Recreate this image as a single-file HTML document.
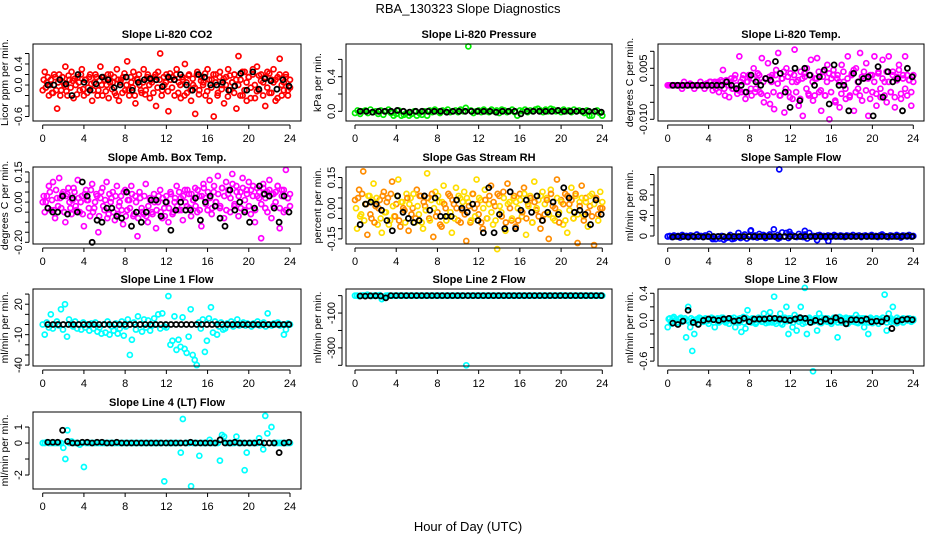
<!DOCTYPE html>
<html><head><meta charset="utf-8"><style>
html,body{margin:0;padding:0;background:#fff;}
svg{display:block;font-family:"Liberation Sans",sans-serif;}
</style></head><body>
<svg id="chart" width="936" height="540" viewBox="0 0 936 540" xmlns="http://www.w3.org/2000/svg">
<text x="468" y="13" text-anchor="middle" font-size="13">RBA_130323  Slope Diagnostics</text>
<text x="468" y="531" text-anchor="middle" font-size="13">Hour of Day (UTC)</text>
</svg>
<script>
const xTicks = [0,4,8,12,16,20,24];
const co2Vals = [-0.1,0.25,0.05,-0.2,0.1,-0.15,0.15,-0.45,0.2,-0.1,0.05,0.35,-0.2,0.1,0.25,-0.25,0.0,0.15,-0.1,0.3,-0.2,0.1,-0.05,0.2,-0.3,0.05,0.15,-0.1,0.35,-0.2,0.1,0.0,-0.25,0.2,0.05,-0.15,0.3,-0.3,0.1,0.15,-0.1,0.45,-0.2,0.05,0.25,-0.35,0.1,0.0,-0.15,0.3,-0.1,0.2,-0.25,0.05,0.15,-0.4,0.25,0.6,-0.1,0.0,0.2,-0.5,0.1,0.15,-0.2,0.3,0.05,-0.25,0.1,0.4,-0.15,0.2,-0.3,0.0,-0.55,0.25,-0.1,0.15,0.05,-0.2,0.3,-0.3,0.1,-0.6,0.2,-0.15,0.25,0.0,-0.35,0.15,0.3,-0.1,0.05,0.2,-0.45,0.55,0.1,-0.2,0.25,-0.3,0.15,-0.05,0.3,-0.25,0.35,-0.1,0.2,0.05,-0.4,0.25,-0.15,0.1,0.3,-0.3,0.15,0.5,-0.2,0.05,0.2,-0.1,-0.05];
const co2Vals2 = [0.1,-0.05,0.15,0.0,-0.15,0.2,-0.1,0.05,-0.2,0.15,0.0,-0.12,0.18,-0.05,0.08,0.12,-0.18,0.05,0.2,-0.08,0.1,-0.15,0.15,0.02,-0.1,0.2,-0.2,0.08,0.0,0.15,-0.12,0.2,0.05,-0.08,0.15,-0.2,0.1,0.05,-0.15,0.22,0.0,-0.1,0.15,-0.05,-0.2,0.12,0.2,-0.1,0.05,-0.18,0.15,0.0,0.1,-0.15,0.2,-0.05,0.1,-0.2,0.15,0.05,-0.12,0.22,-0.05,0.1,0.2,-0.15,0.0,0.15,-0.2,0.05,0.18,-0.1,0.12,-0.05,0.2,-0.18,0.08,0.0,0.22,-0.12,0.1,-0.05,0.2,0.05,-0.2,0.15,-0.08,0.12,0.0,-0.22,0.18,0.05,-0.15,0.1,0.0,-0.2,0.25,-0.1,0.05,0.15,-0.25,0.2,0.0,-0.12,0.18,0.08,-0.2,0.15,-0.05,0.22,-0.15,0.05,0.1,-0.25,0.2,0.0,-0.1,0.15,-0.2,0.1];
const co2Black = [0.0,0.0,0.1,0.02,-0.2,0.2,0.05,-0.1,0.02,0.15,0.1,-0.05,0.0,0.15,-0.1,0.05,0.1,0.12,0.1,-0.03,0.15,0.1,0.2,0.0,-0.1,0.2,0.15,0.0,0.0,0.05,-0.1,-0.02,0.22,-0.1,0.25,-0.08,0.12,0.08,-0.08,0.1,-0.02];
const presVals = [-0.02,0.01,-0.03,0.0,0.01,-0.02,0.02,-0.01,0.0,-0.03,0.01,-0.04,0.0,0.02,-0.02,-0.05,-0.03,0.01,-0.05,-0.04,-0.02,-0.05,-0.03,0.0,-0.05,-0.02,-0.04,0.0,-0.05,0.01,-0.01,0.02,0.0,-0.02,0.01,0.0,0.02,-0.01,0.0,0.01,-0.01,0.02,0.0,0.04,0.75,0.01,-0.02,0.0,0.01,-0.01,0.02,0.0,-0.01,0.02,0.0,0.01,-0.02,0.02,0.01,-0.01,0.0,0.02,-0.01,-0.05,0.01,0.0,0.02,-0.01,0.01,0.0,0.02,0.03,0.01,-0.01,0.02,0.0,0.03,0.02,0.0,0.01,-0.01,0.02,0.0,0.01,-0.01,0.02,0.0,0.01,0.0,-0.02,0.01,-0.05,-0.05,0.0,0.01,-0.02,-0.05];
const presBlack = [0.0,0.0,-0.01,0.0,0.0,0.0,0.01,0.0,-0.01,0.0,0.0,0.0,0.0,0.0,-0.01,0.0,0.0,0.0,0.0,0.0,0.0,0.0,-0.01,0.0,0.0,0.0,-0.03,0.0,0.0,0.0,0.0,0.0,0.01,0.0,0.0,0.0,0.0,0.0,0.0,-0.01];
const tempVals = [0,0,0,0,0,0,0,-0.001,0.001,0,0,0.0005,0,-0.001,0,0,0.001,0,-0.001,0.0005,0,0.001,-0.0015,0.001,0,-0.002,0.0015,0.0045,-0.003,0.001,-0.0035,0.002,-0.001,0.003,-0.0025,0.0085,-0.002,0.003,-0.004,0.001,0.0025,-0.003,0.005,-0.001,0.0035,-0.002,0.008,-0.005,0.002,0.0065,-0.0055,0.003,-0.007,0.0045,0.0095,-0.003,0.002,-0.008,0.005,-0.002,0.0035,-0.004,0.0105,0.001,-0.006,0.004,-0.009,0.0025,0.005,-0.003,0.0075,-0.0045,0.002,0.008,-0.002,-0.0075,0.004,-0.003,0.006,-0.01,0.002,0.0045,-0.005,0.003,-0.0065,0.006,0.001,-0.004,0.0085,-0.003,0.0035,-0.0075,0.005,-0.001,0.0095,-0.0045,0.002,0.0065,-0.009,0.003,-0.002,0.0085,-0.006,0.004,-0.0035,0.0075,0.001,-0.005,0.0085,-0.002,0.004,-0.0065,0.0025,0.006,-0.004,0.003,0.0085,-0.003,0.0015,-0.006,0.003];
const tempVals2 = [0,0,0,0,0,0,0,0,0,0,0,0,0,0,0,0,0,0,0,0,0.001,0,0.0005,-0.001,0.001,0,0.001,-0.001,0.0015,0,0.001,-0.001,0.002,0,-0.0015,0.001,0.002,-0.002,0.001,0.003,-0.001,0.002,-0.002,0.0015,0.003,-0.0025,0.001,0.002,-0.003,0.0025,0.001,-0.002,0.003,0.0005,-0.003,0.002,0.004,-0.001,0.0025,-0.0035,0.001,0.003,-0.002,0.0015,-0.004,0.002,0.0035,-0.001,-0.0025,0.003,0.001,-0.003,0.002,0.004,-0.0015,0.0025,-0.003,0.001,0.0035,-0.002,0.003,-0.0045,0.002,0.001,-0.0025,0.004,-0.001,0.002,-0.0035,0.003,0.0045,-0.002,0.001,-0.003,0.0025,0.004,-0.0015,0.002,-0.004,0.003,0.001,-0.0025,0.0035,-0.001,0.002,-0.003,0.004,0.001,-0.002,0.003,-0.0035,0.0015,0.0045,-0.0025,0.002,-0.001,0.003,0.0015,-0.002,0.001];
const tempBlack = [0,0,0,0,0,0,0,0,0,0,0,0.001,0,-0.001,0,-0.002,0.003,0.001,0,0.002,0.0015,0.007,0.0035,-0.002,-0.0065,0.005,-0.0045,0.005,0.003,0,0.0025,0.0045,-0.0055,0.006,0,0,-0.0075,0.0035,0.001,0.002,0.0025,-0.009,0.0055,-0.0035,0.004,0.001,0.002,-0.0075,0.005,0.0025];
const ambVals = [0.0,-0.05,0.03,0.08,-0.04,0.1,-0.08,0.02,0.12,-0.03,0.05,-0.1,0.04,0.0,-0.06,0.07,-0.02,0.11,-0.05,0.03,-0.12,0.06,0.01,-0.07,0.09,-0.03,0.04,-0.15,0.02,0.07,-0.04,0.1,-0.06,0.0,0.05,-0.09,0.08,-0.02,0.03,-0.11,0.06,-0.04,0.01,0.08,-0.07,0.03,-0.17,0.05,-0.03,-0.06,0.09,-0.1,0.02,-0.05,0.04,-0.13,0.0,0.06,-0.08,-0.03,0.03,-0.1,0.05,-0.06,0.0,0.08,-0.04,0.02,-0.09,0.06,-0.02,0.04,-0.07,0.01,0.07,-0.05,0.03,-0.12,0.09,0.02,-0.04,0.11,-0.06,0.05,0.0,0.13,-0.03,0.07,-0.08,0.1,0.04,-0.05,0.14,-0.02,0.08,-0.07,0.05,0.12,-0.04,0.06,0.1,-0.06,0.03,-0.1,0.07,0.02,-0.18,0.09,-0.03,0.05,0.11,-0.08,0.04,0.0,0.08,-0.13,0.06,-0.05,0.16,0.02,-0.02];
const ambVals2 = [0.03,0.0,-0.03,0.05,0.01,-0.04,0.06,-0.02,0.02,0.04,-0.05,0.03,0.07,-0.03,0.01,0.05,-0.04,0.02,0.0,-0.06,0.04,0.01,-0.03,0.06,-0.05,0.0,0.03,-0.07,0.05,-0.02,0.01,-0.08,0.04,0.02,-0.05,0.03,-0.06,0.0,-0.04,0.05,-0.07,0.01,-0.03,0.04,-0.06,0.0,-0.08,0.02,-0.05,0.03,-0.07,-0.02,0.01,-0.06,0.0,-0.04,0.03,-0.05,0.02,-0.07,0.0,-0.03,0.04,-0.05,0.02,-0.02,0.05,-0.04,0.03,0.0,0.06,-0.03,0.04,0.01,-0.02,0.06,-0.04,0.03,0.07,-0.01,0.05,0.02,-0.03,0.08,0.0,0.04,-0.02,0.07,0.03,-0.04,0.06,0.02,0.09,-0.01,0.05,0.03,-0.03,0.07,0.01,0.04,-0.02,0.06,0.08,-0.04,0.03,0.05,-0.01,0.07,0.02,-0.05,0.06,0.04,-0.02,0.05,0.08,-0.03,0.03,0.06,-0.04,0.02,0.04];
const ambBlack = [-0.03,-0.05,-0.05,0.03,-0.06,0.02,-0.05,0.1,0.03,-0.2,-0.09,-0.1,-0.03,-0.03,-0.07,-0.08,0.05,-0.12,-0.05,-0.1,-0.05,0.01,0.01,-0.07,0.0,-0.14,-0.04,0.0,-0.04,-0.04,0.02,-0.09,0.0,0.03,-0.02,-0.08,-0.12,0.06,-0.04,0.0,-0.05,-0.1,-0.03,0.08,0.04,0.03,-0.03,-0.1,0.03,-0.05];
const rhVals = [0.04,-0.1,0.09,-0.03,0.18,0.02,-0.13,0.06,-0.05,0.12,0.01,-0.08,0.04,-0.12,0.08,-0.02,0.05,-0.06,0.13,-0.04,0.02,0.14,-0.09,0.03,-0.01,0.07,-0.11,0.05,0.0,-0.07,0.09,-0.03,0.06,-0.1,0.01,0.17,-0.05,0.04,-0.14,0.08,-0.02,0.03,-0.09,0.11,0.0,-0.04,0.06,-0.12,0.02,0.1,-0.06,0.05,-0.01,0.08,-0.16,0.03,-0.07,0.07,0.0,0.14,-0.03,0.04,-0.1,0.09,-0.05,0.02,0.11,-0.08,0.01,-0.2,0.06,-0.02,0.08,-0.11,0.12,0.03,-0.06,0.05,-0.09,0.0,0.07,-0.04,0.1,-0.13,0.02,0.06,-0.07,0.13,-0.01,0.04,-0.1,0.08,-0.03,0.05,-0.15,0.09,0.01,-0.06,0.14,-0.02,0.04,-0.08,0.07,-0.12,0.02,0.1,-0.05,0.06,-0.17,0.03,0.11,-0.04,0.05,-0.09,0.01,0.07,-0.18,0.04,-0.03,0.08,0.0];
const rhVals2 = [0.0,0.05,-0.04,0.07,-0.06,0.02,0.06,-0.03,0.04,-0.07,0.05,0.0,-0.05,0.06,-0.02,0.03,-0.08,0.07,0.01,-0.04,0.06,-0.06,0.03,0.0,-0.07,0.05,0.02,-0.03,0.07,-0.05,0.01,0.06,-0.07,0.03,-0.01,0.05,-0.06,0.07,0.0,-0.04,0.06,-0.08,0.03,0.02,-0.06,0.07,-0.02,0.04,-0.05,0.0,0.06,-0.07,0.03,-0.03,0.05,0.01,-0.06,0.07,-0.04,0.02,0.05,-0.07,0.0,0.04,-0.05,0.06,-0.02,0.03,-0.06,0.07,0.01,-0.04,0.05,-0.07,0.02,0.0,-0.05,0.06,0.03,-0.06,0.04,-0.02,0.07,-0.05,0.01,0.05,-0.07,0.03,0.0,-0.04,0.06,-0.06,0.02,0.04,-0.03,0.07,-0.05,0.0,0.05,-0.07,0.03,0.02,-0.06,0.06,-0.01,0.04,-0.05,0.07,-0.03,0.01,0.05,-0.06,0.03,-0.02,0.06,-0.04,0.02,0.05,-0.06,0.0,0.03];
const rhBlack = [-0.08,0.02,0.03,0.02,-0.01,-0.06,-0.11,0.06,-0.02,-0.05,-0.07,-0.06,0.06,-0.01,0.05,-0.04,-0.04,-0.04,0.04,0.0,-0.02,0.02,-0.06,-0.12,0.1,-0.12,-0.03,-0.1,0.08,-0.1,-0.01,0.04,-0.02,0.06,-0.06,-0.02,0.03,-0.03,0.1,0.05,-0.02,-0.01,-0.03,-0.08,0.04,-0.03];
const flowVals = [-1,0,-2,1,-1,0,-3,2,-1,0,-2,1,0,-2,3,-1,0,-2,1,-1,4,-3,-2,-6,-1,-5,0,-7,-4,-3,2,-6,-5,-1,6,-4,-2,3,-5,0,11,-2,1,-3,4,-1,2,-4,0,3,-1,13,-2,2,-3,7,-1,6,-4,3,1,-1,-2,4,0,-2,3,-5,6,-1,0,-2,1,2,-1,0,-3,1,0,-1,2,0,-1,1,0,-2,1,0,-1,2,-1,0,1,-2,0,1,-1,0,2,-1,0,-2,1,3,0,-1,-2,1,0,-1,2,0,-3,1,0,-1,2,-1,0];
const flowBlack = [-2,-1,-1,-2,-1,-1,-2,-1,-1,-1,-1,-1,-1,-1,-1,-1,-1,-1,-1,-1,-1,-1,-1,-1,-1,-1,-1,-1,-1,-1,-1,-1,-1,-1,-1,-1,-1,-1,-1,-1,-1,-1,-1,-1,-1,-1,0,-1];
const flowOutX = [10.9,10.8,8.1,11.9,13.4,14.6,15.7,4.4];
const flowOutY = [130,-5,10,8,10,-8,-10,-6];
const l1Vals = [0,-10,2,-3,10,-4,0,3,-1,15,-5,20,-12,5,0,-2,3,-4,0,-5,2,-3,0,-6,1,-4,2,-7,-3,-9,0,-8,3,-10,-2,-6,1,-9,-4,3,-11,-2,5,-30,-15,2,-5,8,0,-7,5,-3,4,-6,-1,6,0,10,-4,11,-2,-3,28,-20,-16,8,-25,-15,-22,7,-24,-28,-12,15,-30,-35,-40,2,-4,5,-27,-16,6,17,-8,3,-10,-2,2,-5,-4,1,0,3,-2,0,5,-1,0,2,-1,1,0,-2,1,0,3,-1,0,2,-2,11,0,-1,1,0,2,-1,0,-10,-5,1,0];
const l1Black = [0,0,0,0,0,0,0,0,0,0,0,0,0,0,0,0,0,0,0,0,0,0,0,0,0,0,0,0,0,0,0,0,0,0,0,0,0,0,0,0,0,0,0,0,0,0,0,0];
const l2Vals = [0,0,-3,0,2,0,5,0,-2,0,2,0,3,-20,-10,0,1,0,-1,0,0,0,0,0,0,0,0,0,0,0,0,0,0,0,0,0,0,0,0,0,0,0,0,0,0,0,0,0,0,0,0,0,0,0,-400,0,0,0,0,0,0,0,0,0,0,0,0,0,0,0,0,0,0,0,0,0,0,0,0,0,0,0,0,0,0,0,0,0,0,0,0,0,0,0,0,0,0,0,0,0,2,0,0,0,0,0,0,0,0,0,0,0,0,0,0,0,0,0,0,0,0];
const l2Black = [-2,-3,-1,-1,-2,-13,0,0,0,0,0,0,0,0,0,0,0,0,0,0,0,0,0,0,0,0,0,0,0,0,0,0,0,0,0,0,0,0,0,0,0,0,0,0,0,0,0,0];
const l3Vals = [-0.1,0.03,-0.05,0.05,0.0,-0.04,0.03,-0.02,0.0,-0.25,0.2,-0.1,-0.45,-0.2,0.0,-0.05,0.03,-0.02,0.0,0.02,-0.05,0.0,0.03,-0.1,0.02,-0.03,0.0,0.04,-0.02,0.0,-0.05,0.03,0.0,-0.1,0.02,-0.03,-0.17,0.05,-0.12,0.15,0.0,-0.03,0.02,-0.05,0.0,0.03,-0.02,0.1,-0.04,0.0,0.12,-0.03,0.35,-0.05,0.02,0.1,-0.06,0.0,0.2,-0.2,0.03,-0.1,0.08,-0.15,0.02,0.2,-0.05,0.48,-0.2,0.02,-0.03,-0.75,0.0,-0.15,0.1,-0.04,0.0,0.03,-0.02,0.0,-0.05,0.02,0.0,-0.25,0.05,-0.03,0.0,0.02,-0.05,0.03,0.0,-0.02,0.08,-0.04,0.0,0.03,-0.1,0.0,-0.2,0.02,-0.04,0.0,0.03,-0.05,0.02,0.0,0.38,-0.15,0.1,-0.02,0.2,0.0,-0.04,0.02,0.0,-0.03,0.02,0.0,0.03,-0.02,0.0];
const l3Vals2 = [0.02,-0.02,0.03,0.0,-0.03,0.02,0.04,-0.01,0.03,0.0,-0.02,0.03,0.01,-0.03,0.02,0.04,0.0,-0.02,0.03,-0.01,0.02,0.04,-0.03,0.01,0.03,-0.02,0.04,0.0,-0.03,0.02,0.03,-0.01,0.04,0.0,-0.02,0.03,0.01,-0.03,0.04,0.02,-0.01,0.03,0.0,-0.03,0.04,0.01,-0.02,0.03,0.02,-0.03,0.04,0.0,-0.02,0.03,0.01,-0.04,0.02,0.04,-0.01,0.03,0.0,-0.03,0.02,0.04,-0.02,0.01,0.03,-0.03,0.02,0.04,0.0,-0.02,0.03,0.01,-0.03,0.04,0.02,-0.01,0.03,0.0,-0.02,0.04,0.01,-0.03,0.02,0.03,-0.01,0.04,0.0,-0.02,0.03,0.02,-0.03,0.04,0.01,-0.02,0.03,0.0,-0.03,0.04,0.02,-0.01,0.03,0.0,-0.02,0.04,0.01,-0.03,0.02,0.03,0.0,-0.02,0.04,0.01,-0.01,0.03,0.02,0.0,0.03,-0.01,0.02];
const l3Black = [-0.04,-0.06,-0.01,0.15,-0.03,-0.06,0.0,0.02,0.01,0.0,0.02,0.03,-0.01,0.0,0.03,-0.02,0.02,0.02,0.02,0.03,0.03,0.02,0.01,0.0,0.02,0.04,0.03,-0.03,0.0,-0.02,0.02,-0.01,0.04,0.0,-0.05,0.01,0.01,0.0,0.02,-0.02,-0.01,-0.02,0.03,-0.12,-0.01,0.01,0.02,0.01];
const l4Vals = [0,0,0.05,0,0,0,0,0,0,0,-0.3,-1,0.8,0,0.1,0,0,0,-0.1,0,-1.5,0,0,0,0,0,0,0,0,0,0,0,0,0,0,0,0,0,0,0,0,0,0,0,0,0,0,0,0,0,0,0,0,0,0,0,0,0,0,-2.4,0,0,0,0,0,0,0,-0.6,1.5,0,0,0,-2.7,0,0,0,-0.8,0,0,0,0,0.2,0,0,0,0,-1.1,0.5,0.4,0,0,0,0,0,0.4,0,0,0,-1.7,-0.6,0,0,0,0,0,0.3,0,-0.4,1.7,0.6,0,1.0,0,0,0,0,0,0,0,0,0];
const l4Black = [0.05,0.05,0.05,0.8,0.1,0,0,0.05,0.05,0,0.05,0.05,0,0,0.05,0,0,0,0,0,0,0,0,0,0,0,0,0,0,0.05,0,0,0,0,0,0.2,0,0,0.05,0,0,0,0,0.05,0,0,0,-0.6,0,0.05];

const svgNS = "http://www.w3.org/2000/svg";
const svg = document.getElementById('chart');
const colX = [[33,301,42.7,290],[346,612,355,602.3],[658,924,667.7,913.3]];
const rowY = [44,167,289,412];
const BOXH = 77;

function mk(tag, attrs, parent){
  const e = document.createElementNS(svgNS, tag);
  for (const k in attrs) e.setAttribute(k, attrs[k]);
  (parent||svg).appendChild(e);
  return e;
}

function panel(key, title, ylab, col, row, ymin, ymax, yTicks, yLabels, seriesList, black, color2, extraX, extraY){
  const [bl, br, x0, x24] = colX[col];
  const bt = rowY[row], bb = bt + BOXH;
  const sx = v => x0 + (x24 - x0) * v / 24;
  const sy = v => bb - (v - ymin) / (ymax - ymin) * BOXH;
  const g = mk('g', {});
  
  
  const t = mk('text', {x:(bl+br)/2, y:bt-6, 'text-anchor':'middle', 'font-size':'11', 'font-weight':'bold'}, g);
  t.textContent = title;
  
  
  const pts = mk('g', {}, g);
  
  
  seriesList.forEach((series, si) => {
    const n = series.length;
    series.forEach((v, i) => {
      const x = (i + si * 0.5) * 24 / (n - 1 + si * 0.5);
      const c = mk('circle', {cx:sx(x), cy:sy(v), r:2.5, fill:'none', stroke: (color2 && (i+si)%2) ? color2 : series.color, 'stroke-width':1.7}, pts);
      
      
    });
  });
  if (extraX) extraX.forEach((x, i) => {
    const c = mk('circle', {cx:sx(x), cy:sy(extraY[i]), r:2.5, fill:'none', stroke:seriesList[0].color, 'stroke-width':1.7}, pts);
    
    
  });
  const m = black.length;
  black.forEach((v, i) => {
    const x = 0.5 + i * 23.4 / (m - 1);
    const c = mk('circle', {cx:sx(x), cy:sy(v), r:2.5, fill:'none', stroke:'#000', 'stroke-width':1.8}, pts);
    
    
  });
  const box = mk('rect', {x:bl, y:bt, width:br-bl, height:BOXH, fill:'none', stroke:'#000', 'stroke-width':1}, g);
  
  
  const xa = mk('g', {'font-size':'11'}, g);
  
  
  mk('line', {x1:sx(0), x2:sx(24), y1:bb+4, y2:bb+4, stroke:'#000'}, xa);
  xTicks.forEach(v => {
    mk('line', {x1:sx(v), x2:sx(v), y1:bb+4, y2:bb+8, stroke:'#000'}, xa);
    const lt = mk('text', {x:sx(v), y:bb+21, 'text-anchor':'middle'}, xa);
    lt.textContent = v;
  });
  const ya = mk('g', {'font-size':'11'}, g);
  
  
  mk('line', {x1:bl-4, x2:bl-4, y1:sy(yTicks[0]), y2:sy(yTicks[yTicks.length-1]), stroke:'#000'}, ya);
  yTicks.forEach(v => mk('line', {x1:bl-8, x2:bl-4, y1:sy(v), y2:sy(v), stroke:'#000'}, ya));
  yLabels.forEach(s => {
    const y = sy(parseFloat(s));
    const lt = mk('text', {x:bl-11, y:y, 'text-anchor':'middle', transform:`rotate(-90 ${bl-11} ${y})`}, ya);
    lt.textContent = s;
  });
  const yt = mk('text', {x:bl-25, y:(bt+bb)/2, 'text-anchor':'middle', 'font-size':'10.5', transform:`rotate(-90 ${bl-25} ${(bt+bb)/2})`}, g);
  yt.textContent = ylab;
  
  
}
function S(arr, c){ arr.color = c; return arr; }

panel('co2','Slope Li-820 CO2','Licor ppm per min.',0,0,-0.686,0.781,[-0.6,-0.4,-0.2,0,0.2,0.4,0.6],['-0.6','0.0','0.4'],[S(co2Vals,'#ff0000'),S(co2Vals2,'#ff0000')],co2Black);
panel('pressure','Slope Li-820 Pressure','kPa per min.',1,0,-0.112,0.778,[0,0.2,0.4,0.6],['0.0','0.4'],[S(presVals,'#00ee00')],presBlack);
panel('li-temp','Slope Li-820 Temp.','degrees C per min.',2,0,-0.0105,0.01215,[-0.01,-0.005,0,0.005,0.01],['-0.010','0.005'],[S(tempVals,'#ff00ff'),S(tempVals2,'#ff00ff')],tempBlack);
panel('amb-box-temp','Slope Amb. Box Temp.','degrees C per min.',0,1,-0.2085,0.1746,[-0.2,-0.15,-0.1,-0.05,0,0.05,0.1,0.15],['-0.20','0.00','0.15'],[S(ambVals,'#ff00ff'),S(ambVals2,'#ff00ff')],ambBlack);
panel('gas-rh','Slope Gas Stream RH','percent per min.',1,1,-0.1749,0.2013,[-0.15,-0.1,-0.05,0,0.05,0.1,0.15],['-0.15','0.00','0.15'],[S(rhVals,'#ff8c00'),S(rhVals2,'#ff8c00')],rhBlack,'#ffdd00');
panel('sample-flow','Slope Sample Flow','ml/min per min.',2,1,-15.6,134.6,[0,20,40,60,80,100,120],['0','40','80'],[S(flowVals,'#0000ff')],flowBlack,null,flowOutX,flowOutY);
panel('line1-flow','Slope Line 1 Flow','ml/min per min.',0,2,-40.9,35,[-40,-30,-20,-10,0,10,20,30],['-40','-10','20'],[S(l1Vals,'#00ffff')],l1Black);
panel('line2-flow','Slope Line 2 Flow','ml/min per min.',1,2,-404,38.1,[-400,-300,-200,-100,0],['-300','-100'],[S(l2Vals,'#00ffff')],l2Black);
panel('line3-flow','Slope Line 3 Flow','ml/min per min.',2,2,-0.672,0.463,[-0.6,-0.4,-0.2,0,0.2,0.4],['-0.6','0.0','0.4'],[S(l3Vals,'#00ffff'),S(l3Vals2,'#00ffff')],l3Black);
panel('line4-flow','Slope Line 4 (LT) Flow','ml/min per min.',0,3,-2.875,1.94,[-2,-1,0,1],['-2','0','1'],[S(l4Vals,'#00ffff')],l4Black);
</script>
</body></html>
